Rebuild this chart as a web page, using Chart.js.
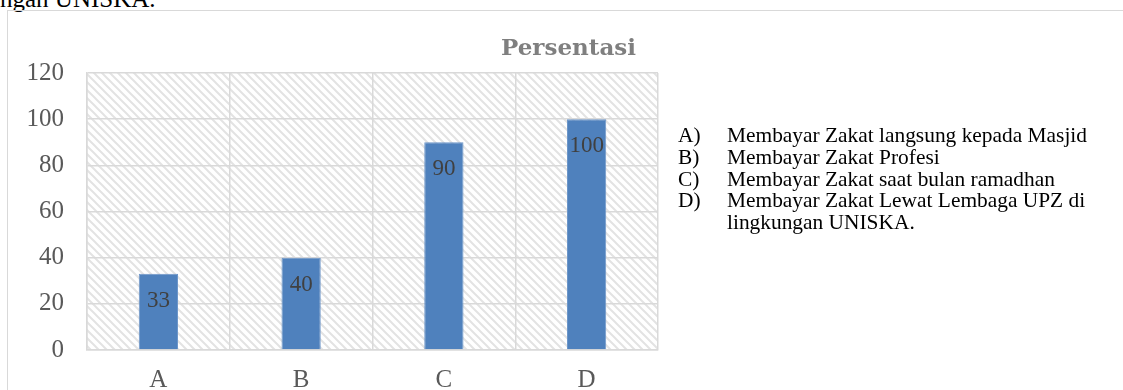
<!DOCTYPE html>
<html>
<head>
<meta charset="utf-8">
<script src="https://cdn.jsdelivr.net/npm/chart.js@4.4.1/dist/chart.umd.min.js"></script>
<style>
  html, body { margin: 0; padding: 0; background: #fff; overflow: hidden; }
  body { width: 1123px; height: 390px; position: relative; }
  .prev-line {
    position: absolute; left: 0; top: -14px;
    font: 25px/25px "Liberation Serif", "Times New Roman", serif;
    color: #000; white-space: nowrap;
  }
  .frame {
    position: absolute; left: 7px; top: 10px; width: 1200px; height: 420px;
    border-left: 1px solid #d9d9d9; border-top: 1px solid #d9d9d9;
  }
  .frame canvas { position: absolute; left: 0; top: 0; }
  .notes {
    position: absolute; left: 670px; top: 114px;
    font: 21.4px/21.8px "Liberation Serif", "Times New Roman", serif;
    color: #000;
  }
  .notes .row { display: flex; }
  .notes .key { width: 49px; flex: none; }
  .notes .txt { white-space: pre; }
</style>
</head>
<body>
<div class="prev-line">ngan UNISKA.</div>
<div class="frame">
  <canvas id="chart" width="1115" height="379"></canvas>
  <div class="notes" id="notes"></div>
</div>
<script>
// Categories and percentages
const categories = ['A', 'B', 'C', 'D'];
const values = [33, 40, 90, 100];
const yTicks = [0, 20, 40, 60, 80, 100, 120];
const chartTitle = 'Persentasi';

// Explanation of each category
const noteKeys = ['A)', 'B)', 'C)', 'D)'];
const noteTexts = [
  'Membayar Zakat langsung kepada Masjid',
  'Membayar Zakat Profesi',
  'Membayar Zakat saat bulan ramadhan',
  'Membayar Zakat Lewat Lembaga UPZ di\nlingkungan UNISKA.'
];

const notes = document.getElementById('notes');
noteKeys.forEach((k, i) => {
  const row = document.createElement('div');
  row.className = 'row';
  const a = document.createElement('div'); a.className = 'key'; a.textContent = k;
  const b = document.createElement('div'); b.className = 'txt'; b.textContent = noteTexts[i];
  row.appendChild(a); row.appendChild(b);
  notes.appendChild(row);
});

const serif = '"Liberation Serif", "Times New Roman", serif';
const gridColor = '#d9d9d9';

// Wide downward-diagonal hatch for the plot background
function makeHatch() {
  const s = 8;
  const c = document.createElement('canvas');
  c.width = s; c.height = s;
  const g = c.getContext('2d');
  g.strokeStyle = '#e3e3e3';
  g.lineWidth = 2;
  g.beginPath();
  g.moveTo(-2, -2); g.lineTo(s + 2, s + 2);
  g.moveTo(-2, s - 2); g.lineTo(2, s + 2);
  g.moveTo(s - 2, -2); g.lineTo(s + 2, 2);
  g.stroke();
  return g.createPattern(c, 'repeat');
}

const hatchBackground = {
  id: 'hatchBackground',
  beforeDraw(chart) {
    const { ctx, chartArea: a } = chart;
    ctx.save();
    ctx.fillStyle = makeHatch();
    ctx.fillRect(a.left, a.top, a.right - a.left, a.bottom - a.top);
    ctx.restore();
  }
};

const chartHeading = {
  id: 'chartHeading',
  afterDraw(chart) {
    const ctx = chart.ctx;
    ctx.save();
    ctx.font = 'bold 23px "DejaVu Serif", serif';
    ctx.fillStyle = '#7f7f7f';
    ctx.textAlign = 'center';
    ctx.textBaseline = 'alphabetic';
    ctx.fillText(chartTitle, chart.width / 2 + 3, 44);
    ctx.restore();
  }
};

const barValues = {
  id: 'barValues',
  afterDatasetsDraw(chart) {
    const ctx = chart.ctx;
    const meta = chart.getDatasetMeta(0);
    ctx.save();
    ctx.font = '23px ' + serif;
    ctx.fillStyle = '#404040';
    ctx.textAlign = 'center';
    ctx.textBaseline = 'middle';
    meta.data.forEach((el, i) => {
      ctx.fillText(String(values[i]), el.x, el.y + 27);
    });
    ctx.restore();
  }
};

new Chart(document.getElementById('chart'), {
  type: 'bar',
  data: {
    labels: categories,
    datasets: [{
      data: values,
      backgroundColor: '#4f81bd',
      borderColor: '#6d96c9',
      borderWidth: 1,
      categoryPercentage: 1,
      barPercentage: 0.275
    }]
  },
  options: {
    responsive: false,
    animation: false,
    layout: { padding: { top: 62, right: 465, bottom: 0, left: 0 } },
    plugins: {
      legend: { display: false },
      title: { display: false },
      tooltip: { enabled: false }
    },
    scales: {
      x: {
        offset: true,
        grid: { offset: true, color: gridColor, lineWidth: 1.5, drawTicks: false },
        border: { color: gridColor, width: 1.5 },
        ticks: { color: '#595959', font: { family: serif, size: 25 }, padding: 15 },
        afterFit(scale) { scale.height = 40; }
      },
      y: {
        min: 0,
        max: 120,
        afterBuildTicks(scale) { scale.ticks = yTicks.map(v => ({ value: v })); },
        grid: { color: gridColor, lineWidth: 1.5, drawTicks: false },
        border: { color: gridColor, width: 1.5 },
        ticks: { color: '#595959', font: { family: serif, size: 25 }, padding: 23 },
        afterFit(scale) { scale.width = 79; }
      }
    }
  },
  plugins: [hatchBackground, chartHeading, barValues]
});
</script>
</body>
</html>
